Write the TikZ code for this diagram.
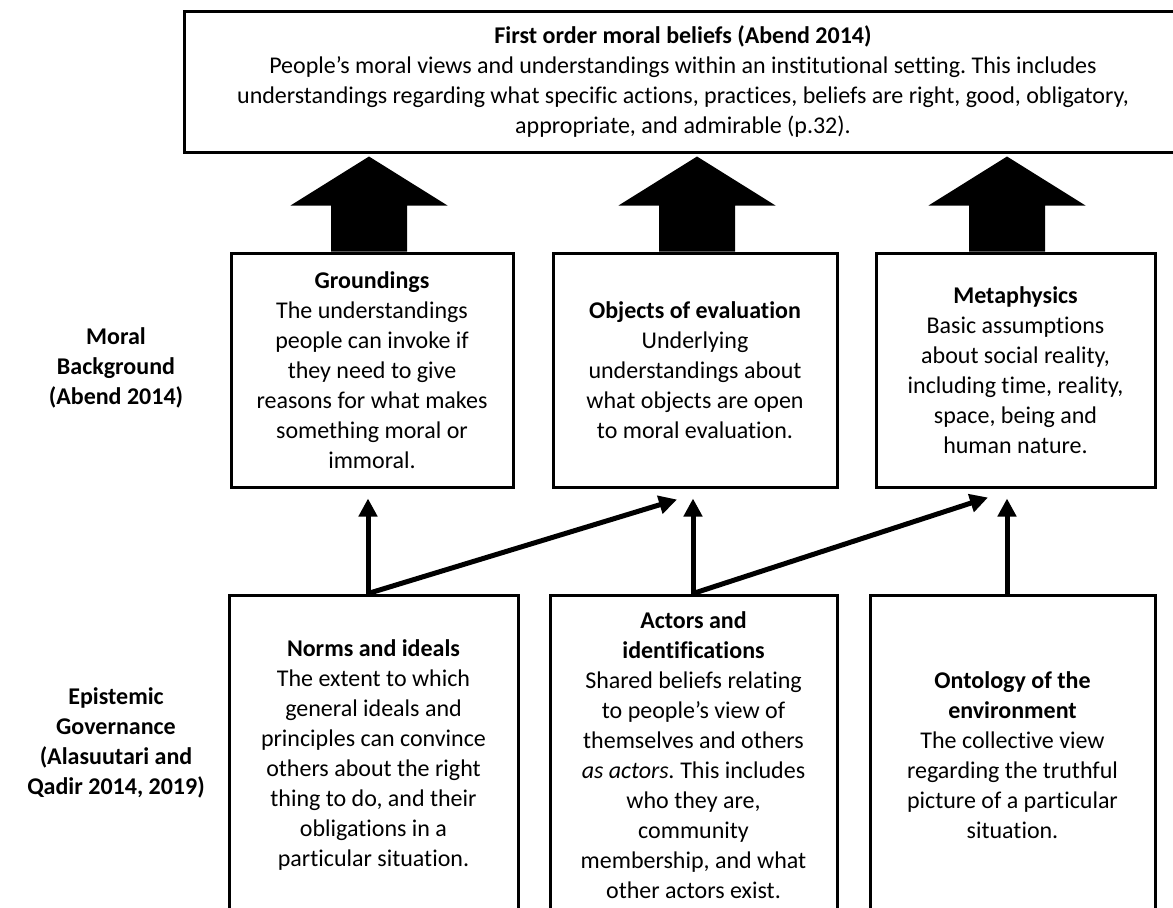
\documentclass[tikz,border=0pt]{standalone}
\usepackage{fontspec}
\setmainfont{Carlito}[Ligatures={TeX,NoCommon}]
\usetikzlibrary{positioning,arrows.meta,calc}

\begin{document}
\begin{tikzpicture}[x=0.5pt, y=-0.5pt, font=\fontsize{12}{15}\selectfont\frenchspacing,
  every node/.style={align=center},
  box/.style={draw, line width=1.5pt, inner sep=0pt},
  side/.style={font=\fontsize{12}{15}\selectfont\bfseries},
  link/.style={line width=2.5pt, -{Triangle[length=9pt,width=9pt]}}]
  \useasboundingbox (0,0) rectangle (1173,907);
  \clip (0,0) rectangle (1173,907);

  \node[box, minimum width=499pt, minimum height=70.5pt] (beliefs) at (683,81.5)
    {\textbf{First order moral beliefs (Abend 2014)}\\
     People’s moral views and understandings within an institutional setting. This includes\\
     understandings regarding what specific actions, practices, beliefs are right, good, obligatory,\\
     appropriate, and admirable (p.32).};

  \node[box, minimum width=141pt, minimum height=117pt] (grounds) at (372,370)
    {\textbf{Groundings}\\The understandings\\people can invoke if\\they need to give\\reasons for what makes\\something moral or\\immoral.};
  \node[box, minimum width=142pt, minimum height=117pt] (objects) at (695,370)
    {\textbf{Objects of evaluation}\\Underlying\\understandings about\\what objects are open\\to moral evaluation.};
  \node[box, minimum width=139.5pt, minimum height=117pt] (metaphys) at (1015.5,370)
    {\textbf{Metaphysics}\\Basic assumptions\\about social reality,\\including time, reality,\\space, being and\\human nature.};

  \node[box, minimum width=144.5pt, minimum height=160pt] (norms) at (373.5,755)
    {\textbf{Norms and ideals}\\The extent to which\\general ideals and\\principles can convince\\others about the right\\thing to do, and their\\obligations in a\\particular situation.};
  \node[box, minimum width=143.5pt, minimum height=160pt] (actors) at (693.5,755)
    {\textbf{Actors and}\\\textbf{identifications}\\Shared beliefs relating\\to people’s view of\\themselves and others\\\textit{as actors.} This includes\\who they are,\\community\\membership, and what\\other actors exist.};
  \node[box, minimum width=142.5pt, minimum height=160pt] (ontology) at (1012.5,755)
    {\textbf{Ontology of the}\\\textbf{environment}\\The collective view\\regarding the truthful\\picture of a particular\\situation.};

  \node[side] (moral) at (116,368) {Moral\\Background\\(Abend 2014)};
  \node[side] (epist) at (116,743) {Epistemic\\Governance\\(Alasuutari and\\Qadir 2014, 2019)};

  % block arrows up to the first order beliefs
  \foreach \b/\dx in {grounds/-3, objects/2, metaphys/-8.5}
    \fill ($(\b.north)+(\dx-38,0)$) -- ++(0,-46) -- ++(-40.5,0) -- ++(78.5,-49)
      -- ++(78.5,49) -- ++(-40.5,0) -- ++(0,46) -- cycle;

  \draw[link] ($(norms.north)+(-5.5,0)$) -- ($(grounds.south)+(-4,10)$);
  \draw[link] ($(norms.north)+(-5.5,0)$) -- ($(objects.south)+(-18,11)$);
  \draw[link] ($(actors.north)+(-0.5,0)$) -- ($(objects.south)+(-2,10)$);
  \draw[link] ($(actors.north)+(-0.5,0)$) -- ($(metaphys.south)+(-27.5,9)$);
  \draw[link] ($(ontology.north)+(-5.5,0)$) -- ($(metaphys.south)+(-8.5,10)$);
\end{tikzpicture}
\end{document}
